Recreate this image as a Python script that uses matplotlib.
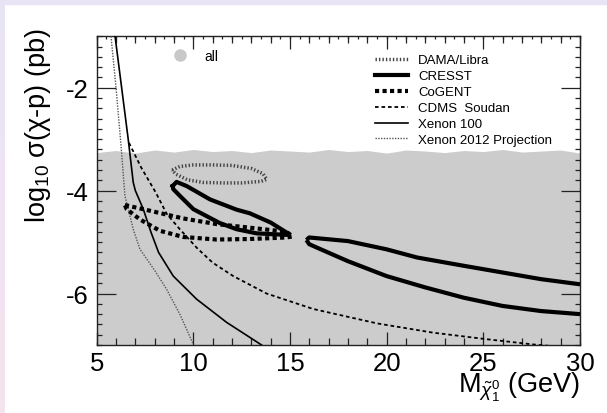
import matplotlib
matplotlib.use("Agg")
from matplotlib import pyplot as plt
from matplotlib.lines import Line2D
from matplotlib.ticker import MultipleLocator, NullFormatter
import numpy as np

plt.rcParams["font.family"] = ["Liberation Sans", "DejaVu Sans"]
plt.rcParams["mathtext.fontset"] = "custom"
plt.rcParams["mathtext.rm"] = "Liberation Sans"
plt.rcParams["mathtext.it"] = "Liberation Sans:italic"
plt.rcParams["axes.unicode_minus"] = False

# upper edge of the scanned ("all") region, one value per GeV from 5 to 30
all_x = [5, 6, 7, 8, 9, 10, 11, 12, 13, 14, 15, 16, 17, 18, 19, 20, 21, 22, 23, 24, 25, 26, 27, 28, 29, 30]
all_top = [-3.26, -3.22, -3.27, -3.21, -3.25, -3.20, -3.24, -3.22, -3.26, -3.21, -3.23, -3.25, -3.20,
           -3.24, -3.22, -3.27, -3.21, -3.23, -3.26, -3.22, -3.24, -3.20, -3.25, -3.23, -3.21, -3.27]

dama_x = [8.9, 9.3, 10.0, 11.0, 12.0, 13.0, 13.6, 13.8, 13.5, 12.5, 11.5, 10.5, 9.7, 9.1, 8.9]
dama_y = [-3.60, -3.53, -3.50, -3.50, -3.51, -3.57, -3.67, -3.78, -3.82, -3.85, -3.85, -3.84, -3.79, -3.68, -3.60]

cresst1_x = [8.93, 9.13, 9.65, 10.86, 12.24, 12.92, 14.0, 14.85, 14.82, 13.27, 12.24, 11.37, 10.0, 9.3, 8.96, 8.93]
cresst1_y = [-3.91, -3.83, -3.91, -4.17, -4.37, -4.44, -4.62, -4.82, -4.86, -4.83, -4.75, -4.63, -4.36, -4.10, -3.97, -3.91]

cresst2_up_x = [15.85, 15.99, 17.99, 19.99, 21.58, 23.98, 25.98, 27.98, 30.0]
cresst2_up_y = [-4.96, -4.91, -4.98, -5.14, -5.30, -5.46, -5.59, -5.72, -5.82]
cresst2_lo_x = [15.85, 15.99, 16.59, 17.99, 19.99, 21.99, 23.98, 25.98, 27.98, 30.0]
cresst2_lo_y = [-4.96, -5.04, -5.14, -5.37, -5.66, -5.88, -6.08, -6.24, -6.34, -6.40]

cogent_x = [6.46, 7.75, 9.47, 11.2, 12.92, 14.82, 15.13, 14.82, 12.92, 11.2, 9.47, 8.27, 7.24, 6.55, 6.46]
cogent_y = [-4.28, -4.39, -4.54, -4.65, -4.72, -4.80, -4.89, -4.91, -4.94, -4.95, -4.90, -4.78, -4.56, -4.36, -4.28]

cdms_x = [6.67, 7.3, 8.06, 8.62, 9.3, 10.2, 11.0, 12.06, 13.79, 16.2, 19.5, 22.4, 25.0, 27.6, 28.5]
cdms_y = [-3.07, -3.55, -4.04, -4.45, -4.75, -5.12, -5.40, -5.66, -6.00, -6.30, -6.58, -6.76, -6.88, -6.99, -7.02]

xe100_x = [5.95, 6.29, 6.63, 6.89, 7.0, 7.41, 7.8, 8.2, 8.96, 10.17, 11.72, 13.53]
xe100_y = [-1.0, -2.0, -3.0, -3.84, -4.0, -4.36, -4.8, -5.2, -5.66, -6.11, -6.56, -7.0]

xe2012_x = [5.74, 6.0, 6.26, 6.46, 6.89, 7.24, 8.0, 8.62, 9.3, 10.0]
xe2012_y = [-1.0, -2.0, -3.13, -4.1, -4.75, -5.14, -5.55, -5.92, -6.4, -6.99]

fig = plt.figure(figsize=(6.07, 4.14), dpi=100)

# lavender frame on top and left edge
fig.patches.append(plt.Rectangle((0, 1 - 4.5 / 414), 1, 4.5 / 414, transform=fig.transFigure,
                                 color="#e8e4f6", zorder=0))
band = fig.add_axes([0, 0, 4.5 / 607, 1])
band.imshow(np.linspace(0, 1, 50).reshape(-1, 1), aspect="auto", extent=(0, 1, 0, 1),
            cmap=matplotlib.colors.LinearSegmentedColormap.from_list("b", ["#e8e4f6", "#f5e3ee"]))
band.axis("off")

ax = fig.add_axes([96.7 / 607, 68 / 414, 483.3 / 607, 308.7 / 414])

ax.fill_between(all_x, -7.5, all_top, color="#cccccc", lw=0, zorder=1)

ax.plot(xe2012_x, xe2012_y, color="#555555", lw=1.0, ls=(0, (1, 1)), zorder=3)
ax.plot(xe100_x, xe100_y, color="black", lw=1.2, zorder=3)
ax.plot(cdms_x, cdms_y, color="black", lw=1.3, ls=(0, (2, 1.6)), zorder=3)
ax.plot(cogent_x, cogent_y, color="black", lw=3, ls=(0, (1, 0.8)), zorder=3)
ax.plot(dama_x, dama_y, color="#444444", lw=2.5, ls=(0, (0.4, 0.6)), zorder=3)
ax.plot(cresst1_x, cresst1_y, color="black", lw=3, zorder=4)
ax.plot(cresst2_up_x, cresst2_up_y, color="black", lw=3, zorder=4, solid_capstyle="butt")
ax.plot(cresst2_lo_x, cresst2_lo_y, color="black", lw=3, zorder=4, solid_capstyle="butt")

ax.set_xlim(5, 30)
ax.set_ylim(-7, -1)

ax.xaxis.set_major_locator(MultipleLocator(5))
ax.xaxis.set_minor_locator(MultipleLocator(1))
ax.yaxis.set_major_locator(MultipleLocator(2))
ax.yaxis.set_minor_locator(MultipleLocator(0.2))
ax.set_yticks([-2, -4, -6])

ax.tick_params(which="both", direction="in", top=True, right=True, width=0.9, color="#222222")
ax.tick_params(axis="x", which="major", length=9.4, labelsize=18.5, pad=4.5)
ax.tick_params(axis="x", which="minor", length=5)
ax.tick_params(axis="y", which="major", length=13.5, labelsize=18.5, pad=5.5)
ax.tick_params(axis="y", which="minor", length=3.6)
for s in ax.spines.values():
    s.set_linewidth(1.0)
    s.set_color("#222222")

# finest x ticks every 0.5 GeV
for side in ["bottom", "top"]:
    sec = ax.secondary_xaxis(side)
    sec.set_xticks([])
    sec.xaxis.set_minor_locator(MultipleLocator(0.5))
    sec.xaxis.set_minor_formatter(NullFormatter())
    sec.tick_params(which="minor", direction="in", length=2.5, width=0.9, color="#222222")
    sec.spines[side].set_visible(False)

ax.set_ylabel("log$_{10}$ σ(χ-p) (pb)", fontsize=19.5)
ax.yaxis.label.set(rotation_mode="default", ha="center", va="top")
ax.yaxis.set_label_coords(-0.1215, 1.03)
ax.set_xlabel(r"M$_{\tilde{\chi}_1^0}$ (GeV)", fontsize=19.5, loc="right")
ax.xaxis.set_label_coords(1.0, -0.08)

handles = [
    Line2D([], [], color="#444444", lw=2.5, ls=(0, (0.4, 0.6))),
    Line2D([], [], color="black", lw=3),
    Line2D([], [], color="black", lw=3, ls=(0, (1, 0.8))),
    Line2D([], [], color="black", lw=1.3, ls=(0, (2, 1.6))),
    Line2D([], [], color="black", lw=1.2),
    Line2D([], [], color="#555555", lw=1.0, ls=(0, (1, 1))),
]
labels = ["DAMA/Libra", "CRESST", "CoGENT", "CDMS  Soudan", "Xenon 100", "Xenon 2012 Projection"]
leg = ax.legend(handles, labels, loc="upper left", bbox_to_anchor=(0.576, 0.942), frameon=False,
                fontsize=9.5, handlelength=2.5, handletextpad=0.75, labelspacing=0.28,
                borderpad=0, borderaxespad=0)
ax.add_artist(leg)

all_handle = Line2D([], [], ls="", marker="o", ms=8, color="#c8c8c8")
ax.legend([all_handle], ["all"], loc="upper left", bbox_to_anchor=(0.157, 0.958), frameon=False,
          fontsize=10, handlelength=1, handletextpad=1.3, borderpad=0, borderaxespad=0)

plt.savefig("out.png", dpi=100)
plt.close()
